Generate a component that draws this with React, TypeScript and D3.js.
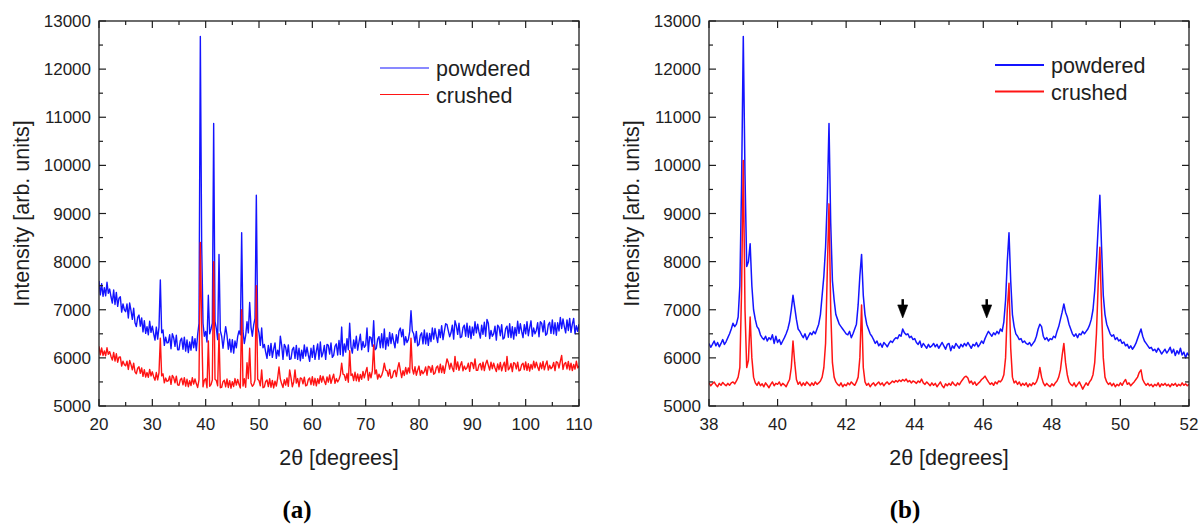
import * as d3 from "d3";

// ==== DATA ====

// panel (a): 20..110 deg, sampled every 0.25 deg
const A_START = 20;
const A_STEP = 0.25;

const POWDERED_A = [
  7600, 7310, 7540, 7280, 7460, 7290, 7570, 7340, 7430, 7270, 7140, 7410,
  7110, 7360, 7070, 7240, 7270, 6950, 7120, 7000, 6960, 7120, 6830, 7140,
  6980, 6800, 7030, 6730, 6650, 6840, 6890, 6660, 6830, 6540, 6770, 6510,
  6650, 6480, 6760, 6530, 6660, 6500, 6370, 6640, 6390, 6640, 7620, 6520,
  6580, 6260, 6430, 6310, 6320, 6480, 6190, 6500, 6420, 6240, 6470, 6170,
  6170, 6360, 6410, 6180, 6430, 6140, 6370, 6110, 6330, 6160, 6440, 6210,
  6400, 6150, 6480, 6720, 12680, 8360, 6720, 6450, 6550, 6330, 7300, 6500,
  6600, 6720, 10870, 6760, 6610, 6380, 8150, 6560, 6450, 6200, 6430, 6650,
  6470, 6180, 6390, 6120, 6380, 6100, 6350, 6210, 6440, 6560, 6480, 8600,
  6560, 6300, 6460, 6750, 6520, 7150, 6640, 6450, 6680, 6820, 9380, 6640,
  6520, 6260, 6620, 6210, 6280, 6120, 5990, 6260, 6050, 6300, 6010, 6180,
  6310, 5990, 6160, 6040, 6450, 6260, 5970, 6280, 6220, 6040, 6270, 5970,
  5980, 6170, 6220, 5990, 6260, 5970, 6200, 5940, 6160, 5990, 6270, 6040,
  6220, 6060, 5930, 6200, 6010, 6260, 5970, 6140, 6290, 5970, 6330, 6020,
  6100, 6260, 5970, 6280, 6260, 6080, 6310, 6010, 6050, 6240, 6290, 6060,
  6360, 6070, 6640, 6040, 6290, 6120, 6400, 6170, 6720, 6230, 6100, 6370,
  6200, 6450, 6160, 6330, 6490, 6170, 6340, 6220, 6260, 6620, 6130, 6440,
  6420, 6240, 6770, 6170, 6200, 6390, 6440, 6210, 6500, 6210, 6600, 6180,
  6420, 6250, 6530, 6300, 6500, 6340, 6210, 6480, 6310, 6560, 6620, 6440,
  6590, 6270, 6440, 6320, 6380, 6540, 6980, 6560, 6500, 6320, 6550, 6250,
  6280, 6470, 6520, 6290, 6580, 6290, 6520, 6260, 6510, 6340, 6620, 6390,
  6610, 6450, 6320, 6590, 6420, 6670, 6380, 6550, 6710, 6690, 6560, 6440,
  6520, 6680, 6390, 6770, 6670, 6490, 6720, 6420, 6440, 6630, 6680, 6450,
  6720, 6430, 6660, 6400, 6640, 6470, 6750, 6520, 6700, 6540, 6410, 6680,
  6490, 6740, 6450, 6800, 6720, 6400, 6570, 6450, 6500, 6660, 6370, 6680,
  6640, 6460, 6690, 6390, 6420, 6610, 6660, 6430, 6710, 6420, 6650, 6390,
  6630, 6460, 6760, 6510, 6710, 6550, 6420, 6690, 6500, 6750, 6460, 6630,
  6770, 6450, 6620, 6500, 6570, 6730, 6440, 6750, 6720, 6540, 6770, 6470,
  6500, 6690, 6740, 6510, 6790, 6500, 6730, 6470, 6730, 6560, 6840, 6610,
  6810, 6650, 6520, 6790, 6570, 6820, 6530, 6700, 6820, 6500, 6670, 6550,
  6700,
];

const CRUSHED_A = [
  6240, 6065, 6205, 6050, 6145, 6045, 6210, 6075, 6130, 6030, 5955, 6115,
  5935, 6085, 5910, 6015, 6020, 5830, 5930, 5860, 5835, 5930, 5760, 5945,
  5860, 5750, 5890, 5710, 5670, 5785, 5815, 5680, 5790, 5615, 5755, 5600,
  5695, 5595, 5760, 5625, 5710, 5610, 5535, 5695, 5545, 5695, 6410, 5625,
  5670, 5480, 5580, 5510, 5525, 5620, 5450, 5635, 5590, 5480, 5620, 5440,
  5430, 5545, 5575, 5440, 5590, 5415, 5555, 5400, 5525, 5425, 5590, 5455,
  5560, 5460, 5385, 5545, 8400, 6700, 5400, 5535, 5570, 5380, 6350, 5410,
  5445, 5540, 8000, 5555, 5530, 5420, 6500, 5380, 5390, 5505, 5535, 5400,
  5560, 5385, 5525, 5370, 5505, 5405, 5570, 5435, 5550, 5450, 5375, 7000,
  5415, 5565, 5390, 5900, 5570, 6200, 5480, 5410, 5445, 5540, 7500, 5555,
  5530, 5420, 5750, 5380, 5395, 5510, 5540, 5405, 5565, 5390, 5530, 5375,
  5515, 5415, 5580, 5810, 5560, 5460, 5385, 5545, 5435, 5585, 5410, 5750,
  5590, 5400, 5500, 5750, 5475, 5570, 5400, 5585, 5570, 5460, 5600, 5420,
  5435, 5550, 5580, 5445, 5610, 5435, 5575, 5420, 5565, 5465, 5630, 5495,
  5620, 5520, 5445, 5605, 5495, 5645, 5470, 5575, 5660, 5470, 5570, 5500,
  5550, 5645, 5890, 5660, 5645, 5535, 5675, 5495, 6150, 5635, 5665, 5530,
  5700, 5525, 5665, 5510, 5655, 5555, 5720, 5585, 5710, 5800, 5535, 5695,
  5585, 5735, 6270, 5665, 5750, 5560, 5660, 5590, 5635, 5730, 5890, 5745,
  5730, 5620, 5760, 5580, 5600, 5715, 5745, 5610, 5780, 5900, 5745, 5590,
  5735, 5635, 5800, 5665, 5790, 5690, 6410, 5775, 5665, 5815, 5640, 5745,
  5830, 5640, 5740, 5670, 5715, 5810, 5640, 5825, 5810, 5700, 5840, 5660,
  5685, 5800, 5830, 5695, 5870, 5695, 5835, 5680, 5835, 5980, 5900, 5765,
  5890, 5790, 5715, 6030, 5765, 5915, 5740, 5845, 5920, 5730, 5830, 5760,
  5795, 5890, 5720, 5905, 5890, 5780, 5980, 5740, 5740, 5855, 5885, 5750,
  5910, 5735, 5875, 5950, 5845, 5745, 5910, 5775, 5890, 5790, 5715, 5875,
  5755, 5905, 5730, 5835, 5910, 5720, 6030, 5750, 5790, 5885, 5715, 5900,
  5880, 5770, 5910, 5730, 5745, 5860, 5890, 5755, 5915, 5740, 5880, 5725,
  5865, 5765, 5930, 5795, 5910, 5810, 5735, 5895, 5775, 5925, 5750, 5855,
  5935, 5745, 5845, 5775, 5810, 5905, 5735, 5920, 5900, 5790, 5930, 6050,
  5760, 5875, 5905, 5770, 5925, 5750, 5890, 5735, 5865, 5765, 5930, 5795,
  5830,
];

// panel (b): 38..52 deg, sampled every 0.05 deg
const B_START = 38;
const B_STEP = 0.05;

const POWDERED_B = [
  6300, 6220, 6280, 6350, 6250, 6320, 6230, 6300, 6380, 6280,
  6340, 6420, 6500, 6600, 6720, 6650, 6700, 6850, 7500, 9600,
  12680, 9800, 7900, 8000, 8370, 7500, 7000, 6800, 6650, 6600,
  6480, 6420, 6380, 6450, 6350, 6420, 6380, 6480, 6300, 6450,
  6320, 6380, 6280, 6350, 6420, 6500, 6600, 6750, 7000, 7300,
  7050, 6800, 6600, 6550, 6480, 6420, 6500, 6380, 6450, 6520,
  6480, 6550, 6500, 6600, 6700, 6900, 7300, 7700, 8300, 9300,
  10870, 8800, 7600, 7200, 6900, 6800, 6700, 6650, 6600, 6550,
  6500, 6480, 6550, 6420, 6500, 6600, 6700, 7100, 7700, 8150,
  7300, 6900, 6700, 6600, 6500, 6450, 6380, 6300, 6350, 6250,
  6300, 6220, 6320, 6280, 6230, 6300, 6350, 6320, 6380, 6420,
  6400, 6480, 6450, 6600, 6520, 6480, 6500, 6420, 6450, 6380,
  6400, 6320, 6280, 6350, 6220, 6300, 6250, 6200, 6280, 6220,
  6250, 6300, 6230, 6280, 6200, 6260, 6320, 6250, 6180, 6280,
  6300, 6150, 6250, 6200, 6300, 6250, 6200, 6280, 6230, 6300,
  6250, 6320, 6260, 6200, 6280, 6250, 6320, 6230, 6280, 6350,
  6300, 6400, 6480, 6550, 6500, 6450, 6520, 6480, 6550, 6500,
  6600, 6550, 6750, 7200, 8000, 8600, 7600, 6900, 6650, 6500,
  6450, 6380, 6400, 6320, 6350, 6300, 6280, 6320, 6250, 6300,
  6350, 6450, 6600, 6700, 6650, 6450, 6380, 6420, 6350, 6400,
  6380, 6450, 6420, 6550, 6650, 6800, 6950, 7120, 6950, 6850,
  6700, 6600, 6500, 6450, 6500, 6420, 6500, 6480, 6550, 6500,
  6550, 6600, 6680, 6800, 7000, 7400, 8000, 8700, 9380, 8300,
  7300, 6900, 6700, 6600, 6500, 6450, 6480, 6380, 6420, 6350,
  6380, 6300, 6330, 6250, 6280, 6200, 6250, 6180, 6230, 6300,
  6400, 6500, 6600, 6450, 6350, 6300, 6250, 6200, 6220, 6150,
  6180, 6120, 6200, 6150, 6080, 6130, 6180, 6100, 6150, 6220,
  6100, 6180, 6050, 6150, 6080, 6200, 6060, 6120, 6000, 6100,
  6050,
];

const CRUSHED_B = [
  5480, 5420, 5460, 5500, 5440, 5400, 5470, 5430, 5490, 5450,
  5420, 5470, 5430, 5480, 5500, 5460, 5520, 5600, 5800, 7400,
  10100, 7000, 5800, 5950, 6850, 6000, 5600, 5480, 5430, 5500,
  5420, 5460, 5400, 5480, 5430, 5380, 5450, 5500, 5420, 5470,
  5450, 5500, 5420, 5470, 5440, 5400, 5480, 5550, 5800, 6350,
  5900, 5550, 5450, 5500, 5420, 5480, 5430, 5500, 5460, 5420,
  5480, 5430, 5500, 5450, 5480, 5520, 5600, 5800, 6300, 7800,
  9200, 7000, 5900, 5600, 5500, 5450, 5420, 5480, 5400, 5450,
  5420, 5480, 5440, 5500, 5460, 5430, 5500, 5600, 6000, 7100,
  5800, 5500, 5430, 5470, 5400, 5450, 5480, 5420, 5460, 5500,
  5440, 5480, 5420, 5470, 5500, 5450, 5480, 5520, 5490, 5530,
  5500, 5540, 5510, 5550, 5520, 5560, 5500, 5530, 5480, 5520,
  5500, 5470, 5520, 5490, 5560, 5480, 5450, 5500, 5460, 5420,
  5480, 5430, 5470, 5400, 5450, 5500, 5420, 5380, 5460, 5420,
  5470, 5430, 5500, 5450, 5420, 5480, 5440, 5500, 5550, 5600,
  5620, 5580, 5480, 5520, 5450, 5500, 5430, 5470, 5500, 5550,
  5580, 5620, 5560, 5500, 5450, 5480, 5430, 5500, 5460, 5520,
  5500, 5550, 5650, 6000, 7000, 7550, 6200, 5600, 5480, 5520,
  5450, 5500, 5420, 5470, 5430, 5480, 5400, 5460, 5420, 5480,
  5450, 5500, 5600, 5800, 5600, 5480, 5420, 5470, 5430, 5400,
  5460, 5420, 5480, 5520, 5600, 5750, 6050, 6300, 5900, 5650,
  5500, 5450, 5420, 5480, 5400, 5450, 5500, 5430, 5350, 5420,
  5480, 5430, 5500, 5550, 5650, 5900, 6500, 7500, 8300, 7000,
  6000, 5600, 5500, 5450, 5480, 5420, 5470, 5400, 5450, 5420,
  5480, 5430, 5500, 5550, 5450, 5480, 5420, 5460, 5500, 5550,
  5600, 5700, 5750, 5550, 5480, 5430, 5470, 5420, 5450, 5400,
  5450, 5420, 5480, 5400, 5460, 5430, 5470, 5420, 5450, 5400,
  5460, 5430, 5470, 5410, 5450, 5420, 5480, 5430, 5460, 5420,
  5450,
];

// axes
const Y_DOMAIN = [5000, 13000];
const Y_TICKS = [5000, 6000, 7000, 8000, 9000, 10000, 11000, 12000, 13000];
const Y_MINOR = [5500, 6500, 7500, 8500, 9500, 10500, 11500, 12500];

const X_DOMAIN_A = [20, 110];
const X_TICKS_A = [20, 30, 40, 50, 60, 70, 80, 90, 100, 110];
const X_MINOR_A = [25, 35, 45, 55, 65, 75, 85, 95, 105];

const X_DOMAIN_B = [38, 52];
const X_TICKS_B = [38, 40, 42, 44, 46, 48, 50, 52];
const X_MINOR_B = [39, 41, 43, 45, 47, 49, 51];

// arrows in (b): [2theta, tail intensity, tip intensity]
const ARROWS_B = [
  [43.65, 7220, 6830],
  [46.1, 7220, 6830],
];

const SERIES = ["powdered", "crushed"];
const BLUE = "#1414ff";
const RED = "#ff1414";

// ==== LAYOUT ====
const TOP = 21;
const BOTTOM = 406;
const PLOT_W = 480;
const FONT = "'Liberation Sans', Arial, sans-serif";
const INK = "#1e1e1e";

const toPoints = (start: number, step: number, ys: number[]) =>
  ys.map((y, i) => [start + i * step, y] as [number, number]);

type PanelProps = {
  left: number;
  xDomain: number[];
  xTicks: number[];
  xMinor: number[];
  series: [number, number][][];
  lineWidth: number;
  legendWidth: number;
  legend: { x: number; y: number };
  tag: string;
  tagX: number;
  arrows?: number[][];
};

function Panel(p: PanelProps) {
  const x = d3.scaleLinear().domain(p.xDomain).range([p.left, p.left + PLOT_W]);
  const y = d3.scaleLinear().domain(Y_DOMAIN).range([BOTTOM, TOP]);
  const line = d3
    .line<[number, number]>()
    .x((d) => x(d[0]))
    .y((d) => y(d[1]));
  const colors = [BLUE, RED];
  const right = p.left + PLOT_W;
  const MAJ = 7;
  const MIN = 4;

  return (
    <g>
      <defs>
        <clipPath id={`clip-${p.tag}`}>
          <rect x={p.left} y={TOP} width={PLOT_W} height={BOTTOM - TOP} />
        </clipPath>
      </defs>

      {/* data */}
      <g clipPath={`url(#clip-${p.tag})`}>
        {p.series.map((s, i) => (
          <path
            key={i}
            d={line(s) || ""}
            fill="none"
            stroke={colors[i]}
            strokeWidth={p.lineWidth}
            strokeLinejoin="round"
          />
        ))}
      </g>

      {/* arrows */}
      {(p.arrows || []).map((a, i) => {
        const ax = x(a[0]);
        const y0 = y(a[1]);
        const y1 = y(a[2]);
        const hy = y1 - 13;
        return (
          <g key={i} fill="#000" stroke="#000">
            <line x1={ax} x2={ax} y1={y0} y2={hy + 1} strokeWidth={2.5} />
            <path d={`M${ax - 5},${hy} L${ax + 5},${hy} L${ax},${y1} Z`} strokeWidth={0.6} />
          </g>
        );
      })}

      {/* frame */}
      <rect
        x={p.left}
        y={TOP}
        width={PLOT_W}
        height={BOTTOM - TOP}
        fill="none"
        stroke={INK}
        strokeWidth={1.3}
      />

      {/* ticks, pointing inward on all four sides */}
      <g stroke={INK} strokeWidth={1.2}>
        {p.xTicks.map((t) => (
          <g key={`xt${t}`}>
            <line x1={x(t)} x2={x(t)} y1={BOTTOM} y2={BOTTOM - MAJ} />
            <line x1={x(t)} x2={x(t)} y1={TOP} y2={TOP + MAJ} />
          </g>
        ))}
        {p.xMinor.map((t) => (
          <g key={`xm${t}`}>
            <line x1={x(t)} x2={x(t)} y1={BOTTOM} y2={BOTTOM - MIN} />
            <line x1={x(t)} x2={x(t)} y1={TOP} y2={TOP + MIN} />
          </g>
        ))}
        {Y_TICKS.map((t) => (
          <g key={`yt${t}`}>
            <line x1={p.left} x2={p.left + MAJ} y1={y(t)} y2={y(t)} />
            <line x1={right} x2={right - MAJ} y1={y(t)} y2={y(t)} />
          </g>
        ))}
        {Y_MINOR.map((t) => (
          <g key={`ym${t}`}>
            <line x1={p.left} x2={p.left + MIN} y1={y(t)} y2={y(t)} />
            <line x1={right} x2={right - MIN} y1={y(t)} y2={y(t)} />
          </g>
        ))}
      </g>

      {/* tick labels */}
      <g fontFamily={FONT} fontSize={17} fill={INK}>
        {p.xTicks.map((t) => (
          <text key={`xl${t}`} x={x(t)} y={BOTTOM + 24} textAnchor="middle">
            {t}
          </text>
        ))}
        {Y_TICKS.map((t) => (
          <text key={`yl${t}`} x={p.left - 8} y={y(t)} dy="0.36em" textAnchor="end">
            {t}
          </text>
        ))}
      </g>

      {/* axis titles */}
      <text
        x={(p.left + right) / 2}
        y={465}
        textAnchor="middle"
        fontFamily={FONT}
        fontSize={21.5}
        fill={INK}
      >
        2θ [degrees]
      </text>
      <text
        transform={`translate(${p.left - 70},${(TOP + BOTTOM) / 2}) rotate(-90)`}
        textAnchor="middle"
        fontFamily={FONT}
        fontSize={21.5}
        fill={INK}
      >
        Intensity [arb. units]
      </text>

      {/* legend */}
      {SERIES.map((name, i) => (
        <g key={name}>
          <line
            x1={p.legend.x}
            x2={p.legend.x + 49}
            y1={p.legend.y + i * 26.5}
            y2={p.legend.y + i * 26.5}
            stroke={colors[i]}
            strokeWidth={p.legendWidth}
          />
          <text
            x={p.legend.x + 56}
            y={p.legend.y + i * 26.5 + 8}
            fontFamily={FONT}
            fontSize={21.5}
            fill={INK}
          >
            {name}
          </text>
        </g>
      ))}

      {/* panel tag */}
      <text
        x={p.tagX}
        y={518}
        textAnchor="middle"
        fontFamily="'Liberation Serif', 'DejaVu Serif', serif"
        fontWeight="bold"
        fontSize={25}
        fill="#000"
      >
        ({p.tag})
      </text>
    </g>
  );
}

export default function App() {
  return (
    <svg
      width={1200}
      height={527}
      style={{ position: "absolute", left: 0, top: 0, background: "#fff" }}
    >
      <rect width={1200} height={527} fill="#fff" />
      <Panel
        left={99}
        xDomain={X_DOMAIN_A}
        xTicks={X_TICKS_A}
        xMinor={X_MINOR_A}
        series={[toPoints(A_START, A_STEP, POWDERED_A), toPoints(A_START, A_STEP, CRUSHED_A)]}
        lineWidth={1.4}
        legendWidth={1.1}
        legend={{ x: 380, y: 68 }}
        tag="a"
        tagX={297}
      />
      <Panel
        left={709}
        xDomain={X_DOMAIN_B}
        xTicks={X_TICKS_B}
        xMinor={X_MINOR_B}
        series={[toPoints(B_START, B_STEP, POWDERED_B), toPoints(B_START, B_STEP, CRUSHED_B)]}
        lineWidth={1.5}
        legendWidth={1.9}
        legend={{ x: 995, y: 65 }}
        tag="b"
        tagX={905}
        arrows={ARROWS_B}
      />
    </svg>
  );
}
